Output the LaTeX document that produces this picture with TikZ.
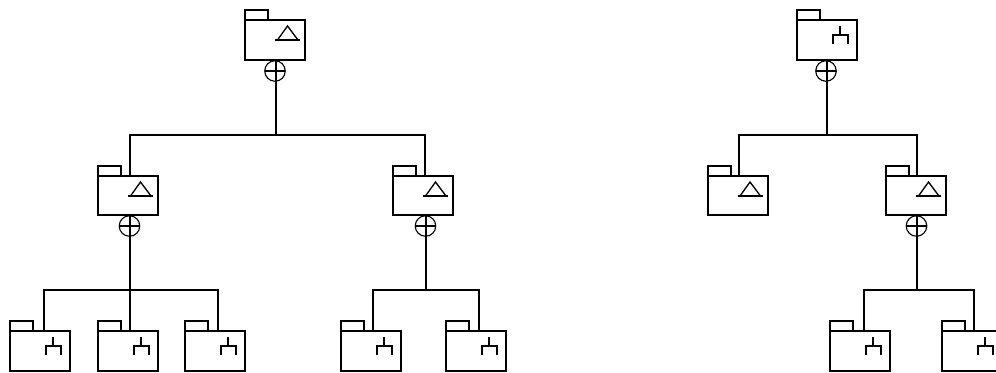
\documentclass[tikz,border=0pt]{standalone}
\tikzset{
  ln/.style={line width=1.5pt,black,line cap=rect,line join=miter},
  thin ln/.style={line width=1.5pt,black,line cap=butt},
  folderbox/.style={draw,line width=1.5pt,black,rectangle,inner sep=0pt,outer sep=0pt,minimum width=45pt},
  hub/.style={draw,circle,line width=0.85pt,black,inner sep=0pt,outer sep=0pt,minimum size=15.4pt},
}
% name, left, top, height(px), icon macro
\newcommand{\folderat}[5]{%
  \node[folderbox,minimum height=#4*0.75pt] (#1) at (#2+30,#3+#4/2) {};
  \draw[ln] (#1.north west) -- ++(0,-10) -- ++(23,0) -- ++(0,10);
  #5{#1}%
}
\newcommand{\triicon}[1]{%
  \begin{scope}[shift={(#1.north west)}]
    \draw[line width=1.5pt,black] (30,20) -- (55,20);
    \draw[line width=1pt,black,line join=miter] (32.5,20) -- (42.5,6) -- (53,20);
  \end{scope}}
\newcommand{\forkicon}[1]{%
  \begin{scope}[shift={(#1.north west)}]
    \draw[line width=1.5pt,black] (43,6) -- (43,15);
    \draw[line width=1.5pt,black] (36,24) -- (36,15) -- (51,15) -- (51,24);
  \end{scope}}
% circle name, folder above, centre x, centre y
\newcommand{\hubat}[4]{%
  \node[hub] (#1) at (#3,#4) {};
  \draw[thin ln] (#1.west) -- (#1.east);
}
\begin{document}
\begin{tikzpicture}[x=0.75pt,y=-0.75pt]
\useasboundingbox (0,0) rectangle (996,373);
\clip (0,0) rectangle (996,373);
% ---------- left tree
\folderat{a}{245}{20}{40}{\triicon}
\folderat{b}{98}{176}{39}{\triicon}
\folderat{c}{393}{176}{39}{\triicon}
\folderat{d}{10}{331}{40}{\forkicon}
\folderat{e}{98}{331}{40}{\forkicon}
\folderat{f}{185}{331}{40}{\forkicon}
\folderat{g}{341}{331}{40}{\forkicon}
\folderat{h}{446}{331}{40}{\forkicon}
\hubat{ha}{a}{275}{71}
\hubat{hb}{b}{129.5}{226}
\hubat{hc}{c}{425.5}{226}
\coordinate (ba) at (276,135);
\coordinate (bb) at (130,135);
\coordinate (bc) at (425,135);
\coordinate (jb) at (130,290);
\coordinate (bd) at (44,290);
\coordinate (bf) at (218,290);
\coordinate (jc) at (426,290);
\coordinate (bg) at (373,290);
\coordinate (bh) at (479,290);
\draw[ln] (ba |- a.south) -- (ba);
\draw[ln] (bb |- b.north) -- (bb) -- (bc) -- (bc |- c.north);
\draw[ln] (jb |- b.south) -- (jb);
\draw[ln] (bd |- d.north) -- (bd) -- (bf) -- (bf |- f.north);
\draw[ln] (jb) -- (jb |- e.north);
\draw[ln] (jc |- c.south) -- (jc);
\draw[ln] (bg |- g.north) -- (bg) -- (bh) -- (bh |- h.north);
% ---------- right tree
\folderat{p}{796.5}{20}{40}{\forkicon}
\folderat{q}{707.5}{176}{39}{\triicon}
\folderat{r}{886}{176}{39}{\triicon}
\folderat{s}{830}{331}{40}{\forkicon}
\folderat{t}{942}{331}{40}{\forkicon}
\hubat{hp}{p}{826}{71}
\hubat{hr}{r}{916.5}{226}
\coordinate (bp) at (827,135);
\coordinate (bq) at (739,135);
\coordinate (br) at (917,135);
\coordinate (jr) at (917,290);
\coordinate (bs) at (864,290);
\coordinate (bt) at (974,290);
\draw[ln] (bp |- p.south) -- (bp);
\draw[ln] (bq |- q.north) -- (bq) -- (br) -- (br |- r.north);
\draw[ln] (jr |- r.south) -- (jr);
\draw[ln] (bs |- s.north) -- (bs) -- (bt) -- (bt |- t.north);
\end{tikzpicture}
\end{document}
